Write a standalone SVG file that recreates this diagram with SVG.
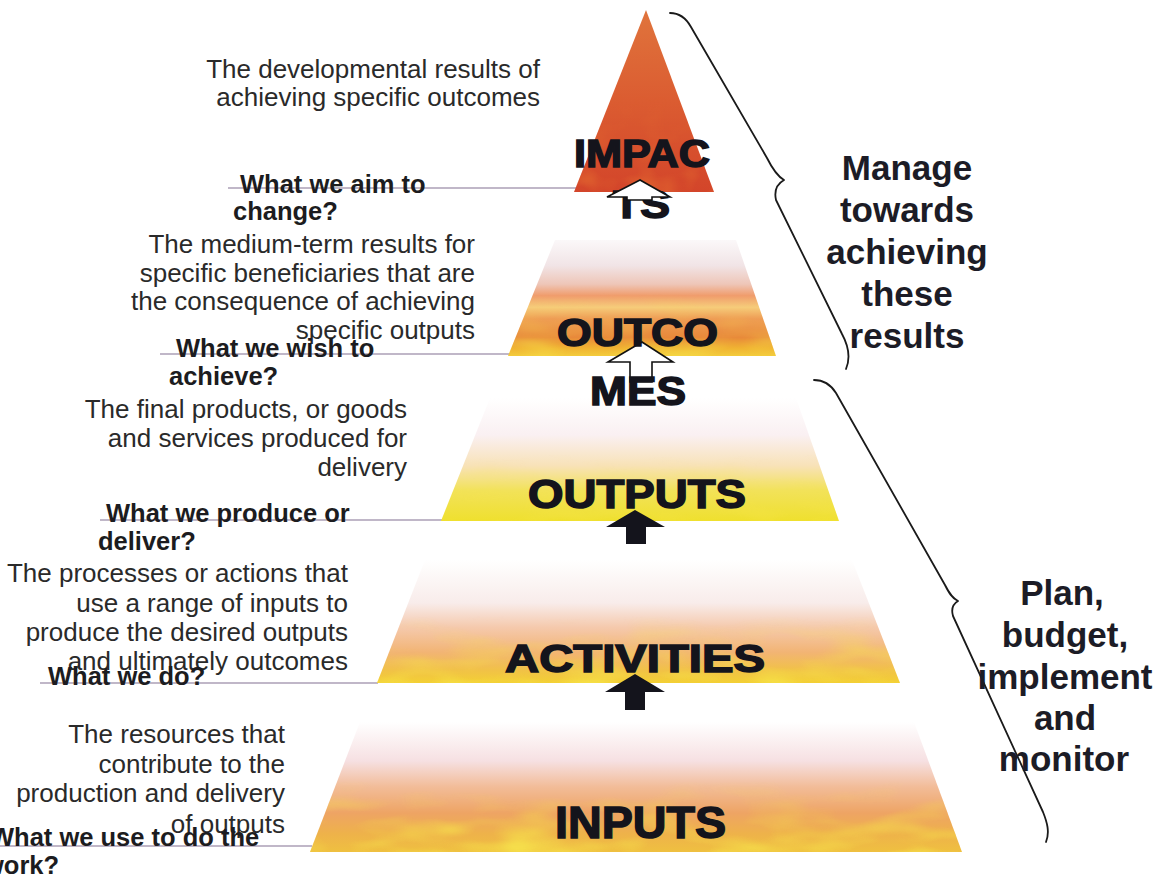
<svg xmlns="http://www.w3.org/2000/svg" width="1163" height="883" viewBox="0 0 1163 883">
  <style>
    .desc { font-family: "Liberation Sans", Arial, sans-serif; font-size: 26px; fill: #2a2a2a; text-anchor: end; }
    .ask { font-family: "Liberation Sans", Arial, sans-serif; font-size: 25.5px; font-weight: bold; fill: #1c1c20; }
    .tier { font-family: "Liberation Sans", Arial, sans-serif; font-weight: bold; fill: #14141c; stroke: #14141c; stroke-width: 1.5px; }
    .side { font-family: "Liberation Sans", Arial, sans-serif; font-size: 35px; font-weight: bold; fill: #1c1c26; text-anchor: middle; }
    .lead { stroke: #ab9fb6; stroke-width: 1.6; fill: none; }
    .brace { stroke: #1a1a1a; stroke-width: 1.8; fill: none; stroke-linecap: round; stroke-linejoin: round; }
    .up-dark { fill: #14141c; }
    .up-open { fill: #ffffff; stroke: #111111; stroke-width: 1.6; stroke-linejoin: miter; }
  </style>
  <defs>
    <linearGradient id="gImpact" x1="0" y1="0" x2="0" y2="1">
      <stop offset="0" stop-color="#e0743c"/>
      <stop offset="0.5" stop-color="#db5c31"/>
      <stop offset="1" stop-color="#d3452a"/>
    </linearGradient>
    <linearGradient id="gOutcomes" x1="0" y1="0" x2="0" y2="1">
      <stop offset="0" stop-color="#fbf8f9"/>
      <stop offset="0.22" stop-color="#f1e4e6"/>
      <stop offset="0.38" stop-color="#eec6b8"/>
      <stop offset="0.48" stop-color="#f09c6c"/>
      <stop offset="0.58" stop-color="#f6cc7a"/>
      <stop offset="0.68" stop-color="#ee9c54"/>
      <stop offset="0.84" stop-color="#e8893a"/>
      <stop offset="0.93" stop-color="#f0b232"/>
      <stop offset="1" stop-color="#f3cc3c"/>
    </linearGradient>
    <linearGradient id="gOutputs" x1="0" y1="0" x2="0" y2="1">
      <stop offset="0" stop-color="#ffffff"/>
      <stop offset="0.3" stop-color="#faf0f2"/>
      <stop offset="0.55" stop-color="#f8e2b8"/>
      <stop offset="0.75" stop-color="#f2e25a"/>
      <stop offset="1" stop-color="#efe02e"/>
    </linearGradient>
    <linearGradient id="gActivities" x1="0" y1="0" x2="0" y2="1">
      <stop offset="0" stop-color="#ffffff"/>
      <stop offset="0.35" stop-color="#f8ecea"/>
      <stop offset="0.55" stop-color="#f5c9ac"/>
      <stop offset="0.75" stop-color="#f2b474"/>
      <stop offset="0.9" stop-color="#f1c246"/>
      <stop offset="1" stop-color="#f3d034"/>
    </linearGradient>
    <linearGradient id="gInputs" x1="0" y1="0" x2="0" y2="1">
      <stop offset="0" stop-color="#ffffff"/>
      <stop offset="0.3" stop-color="#f6e0e2"/>
      <stop offset="0.5" stop-color="#f2bc98"/>
      <stop offset="0.7" stop-color="#eea464"/>
      <stop offset="0.86" stop-color="#eeb24a"/>
      <stop offset="1" stop-color="#efc040"/>
    </linearGradient>
    <linearGradient id="gFade" x1="0" y1="0" x2="0" y2="1">
      <stop offset="0" stop-color="#000" stop-opacity="0"/>
      <stop offset="0.45" stop-color="#000" stop-opacity="0"/>
      <stop offset="1" stop-color="#000" stop-opacity="1"/>
    </linearGradient>
    <!-- mottled paint texture, strongest near the base of each band -->
    <filter id="mottle" x="0" y="0" width="1" height="1" color-interpolation-filters="sRGB">
      <feTurbulence type="fractalNoise" baseFrequency="0.016 0.05" numOctaves="2" seed="7" result="noise"/>
      <feColorMatrix in="noise" type="matrix" values="0 0 0 0 0.97  0 0 0 0 0.9  0 0 0 0 0.3  2.4 0 0 0 -1.05" result="spots"/>
      <feComposite in="spots" in2="SourceAlpha" operator="in"/>
    </filter>
    <filter id="mottleRed" x="0" y="0" width="1" height="1" color-interpolation-filters="sRGB">
      <feTurbulence type="fractalNoise" baseFrequency="0.03 0.04" numOctaves="2" seed="4" result="noise"/>
      <feColorMatrix in="noise" type="matrix" values="0 0 0 0 0.93  0 0 0 0 0.5  0 0 0 0 0.2  2.0 0 0 0 -0.95" result="spots"/>
      <feComposite in="spots" in2="SourceAlpha" operator="in"/>
    </filter>
  </defs>

  <rect x="0" y="0" width="1163" height="883" fill="#ffffff"/>

  <!-- leader lines from each tier out to its question -->
  <g id="connectors">
    <line class="lead" x1="228" y1="188" x2="576" y2="188"/>
    <line class="lead" x1="160" y1="354" x2="510" y2="354"/>
    <line class="lead" x1="100" y1="520" x2="442" y2="520"/>
    <line class="lead" x1="40" y1="683" x2="378" y2="683"/>
    <line class="lead" x1="0" y1="846" x2="312" y2="846"/>
  </g>

  <!-- pyramid tiers -->
  <g id="tier-impact">
    <polygon points="646,10 574,192 714,192" fill="url(#gImpact)"/>
    <polygon points="646,10 574,192 714,192" fill="url(#gFade)" filter="url(#mottleRed)" opacity="0.6"/>
  </g>
  <g id="tier-outcomes">
    <polygon points="555,240 736,240 776,356 508,356" fill="url(#gOutcomes)"/>
    <polygon points="555,240 736,240 776,356 508,356" fill="url(#gFade)" filter="url(#mottle)" opacity="0.5"/>
  </g>
  <g id="tier-outputs">
    <polygon points="490,398 796,398 839,521 441,521" fill="url(#gOutputs)"/>
    <polygon points="490,398 796,398 839,521 441,521" fill="url(#gFade)" filter="url(#mottle)" opacity="0.4"/>
  </g>
  <g id="tier-activities">
    <polygon points="425,560 852,560 900,683 377,683" fill="url(#gActivities)"/>
    <polygon points="425,560 852,560 900,683 377,683" fill="url(#gFade)" filter="url(#mottle)" opacity="0.8"/>
  </g>
  <g id="tier-inputs">
    <polygon points="360,722 914,722 962,852 310,852" fill="url(#gInputs)"/>
    <polygon points="360,722 914,722 962,852 310,852" fill="url(#gFade)" filter="url(#mottle)" opacity="0.85"/>
  </g>

  <!-- upward arrows between tiers -->
  <g id="arrows">
    <polygon class="up-open" points="642,342 608,362 630,362 630,382 652,382 652,362 673,362"/>
    <polygon class="up-dark" points="635,510 606,527 626,527 626,544 646,544 646,527 665,527"/>
    <polygon class="up-dark" points="635,674 605,692 625,692 625,710 645,710 645,692 665,692"/>
  </g>

  <!-- tier names -->
  <g id="tier-labels">
    <text class="tier" x="574" y="167" font-size="38" textLength="136" lengthAdjust="spacingAndGlyphs">IMPAC</text>
    <text class="tier" x="613" y="218" font-size="38" textLength="57" lengthAdjust="spacingAndGlyphs">TS</text>
    <text class="tier" x="557" y="346" font-size="39" textLength="161" lengthAdjust="spacingAndGlyphs">OUTCO</text>
    <text class="tier" x="590" y="405" font-size="40" textLength="96" lengthAdjust="spacingAndGlyphs">MES</text>
    <text class="tier" x="528" y="508" font-size="40" textLength="218" lengthAdjust="spacingAndGlyphs">OUTPUTS</text>
    <text class="tier" x="505" y="672" font-size="38" textLength="260" lengthAdjust="spacingAndGlyphs">ACTIVITIES</text>
    <text class="tier" x="555" y="838" font-size="45" textLength="171" lengthAdjust="spacingAndGlyphs">INPUTS</text>
  </g>

  <!-- open arrow into the apex sits over the split word -->
  <g id="arrow-impact">
    <polygon class="up-open" points="640,180 607,197 627,197 627,200 652,200 652,197 670,197"/>
  </g>

  <!-- descriptions, right aligned beside each tier -->
  <g id="desc-impact">
    <text class="desc" x="540" y="78">The developmental results of</text>
    <text class="desc" x="540" y="106">achieving specific outcomes</text>
  </g>
  <g id="ask-impact">
    <text class="ask" x="240" y="193">What we aim to</text>
    <text class="ask" x="233" y="220">change?</text>
  </g>
  <g id="desc-outcomes">
    <text class="desc" x="475" y="253">The medium-term results for</text>
    <text class="desc" x="475" y="282">specific beneficiaries that are</text>
    <text class="desc" x="475" y="310">the consequence of achieving</text>
    <text class="desc" x="475" y="339">specific outputs</text>
  </g>
  <g id="ask-outcomes">
    <text class="ask" x="176" y="357">What we wish to</text>
    <text class="ask" x="169" y="385">achieve?</text>
  </g>
  <g id="desc-outputs">
    <text class="desc" x="407" y="418">The final products, or goods</text>
    <text class="desc" x="407" y="447">and services produced for</text>
    <text class="desc" x="407" y="476">delivery</text>
  </g>
  <g id="ask-outputs">
    <text class="ask" x="106" y="522">What we produce or</text>
    <text class="ask" x="98" y="550">deliver?</text>
  </g>
  <g id="desc-activities">
    <text class="desc" x="348" y="582">The processes or actions that</text>
    <text class="desc" x="348" y="612">use a range of inputs to</text>
    <text class="desc" x="348" y="641">produce the desired outputs</text>
    <text class="desc" x="348" y="670">and ultimately outcomes</text>
  </g>
  <g id="ask-activities">
    <text class="ask" x="48" y="685">What we do?</text>
  </g>
  <g id="desc-inputs">
    <text class="desc" x="285" y="743">The resources that</text>
    <text class="desc" x="285" y="773">contribute to the</text>
    <text class="desc" x="285" y="802">production and delivery</text>
    <text class="desc" x="285" y="833">of outputs</text>
  </g>
  <g id="ask-inputs">
    <text class="ask" x="-10" y="846">What we use to do the</text>
    <text class="ask" x="-16" y="874">work?</text>
  </g>

  <!-- braces grouping the tiers on the right -->
  <g id="brace-results">
    <path class="brace" d="M 670,13 C 679,13 686,18 691,27 L 767,158 C 772,168 777,176 784,180 C 777,184 774,191 776,200 L 842,334 C 848,345 851,357 846,369"/>
    <text class="side" x="907" y="180">Manage</text>
    <text class="side" x="907" y="222">towards</text>
    <text class="side" x="907" y="264">achieving</text>
    <text class="side" x="907" y="306">these</text>
    <text class="side" x="907" y="348">results</text>
  </g>
  <g id="brace-delivery">
    <path class="brace" d="M 814,380 C 823,380 831,385 836,393 L 945,585 C 949,593 952,598 958,601 C 953,604 951,609 953,616 L 1043,812 C 1047,822 1050,832 1046,842"/>
    <text class="side" x="1062" y="605">Plan,</text>
    <text class="side" x="1065" y="647">budget,</text>
    <text class="side" x="1065" y="689">implement</text>
    <text class="side" x="1065" y="730">and</text>
    <text class="side" x="1064" y="771">monitor</text>
  </g>
</svg>
